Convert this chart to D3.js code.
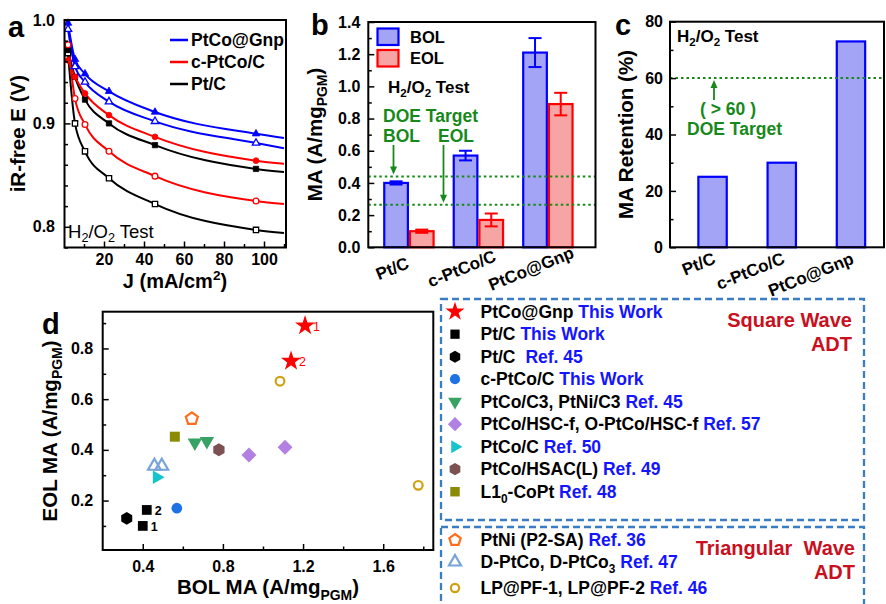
<!DOCTYPE html>
<html>
<head>
<meta charset="utf-8">
<script src="https://cdn.jsdelivr.net/npm/d3@7"></script>
<style>
  html, body { margin: 0; padding: 0; background: #fff; }
  svg { display: block; }
  text { font-family: 'Liberation Sans', Arial, Helvetica, sans-serif; }
</style>
</head>
<body>
<svg id="fig" width="886" height="604"></svg>
<script>
// ---------- panel a: iR-free polarization curves (H2/O2) ----------
const currentDensity = [2, 5.5, 10.5, 22.5, 45.5, 96, 110];   // mA/cm2, last point = curve end
const gnpBOL   = [0.997, 0.962, 0.948, 0.931, 0.911, 0.890, 0.886];
const gnpEOL   = [0.991, 0.955, 0.940, 0.921, 0.902, 0.881, 0.876];
const cPtCoBOL = [0.961, 0.945, 0.929, 0.908, 0.887, 0.864, 0.861];
const cPtCoEOL = [0.976, 0.924, 0.899, 0.873, 0.849, 0.825, 0.822];
const ptcBOL   = [0.971, 0.945, 0.923, 0.900, 0.879, 0.856, 0.853];
const ptcEOL   = [0.968, 0.900, 0.873, 0.847, 0.822, 0.797, 0.794];
const curveLegend = ["PtCo@Gnp", "c-PtCo/C", "Pt/C"];

// ---------- panel b: mass activity BOL / EOL ----------
const catalysts = ["Pt/C", "c-PtCo/C", "PtCo@Gnp"];
const bolMA  = [0.40, 0.57, 1.21];
const bolErr = [0.01, 0.03, 0.09];
const eolMA  = [0.10, 0.17, 0.89];
const eolErr = [0.01, 0.04, 0.07];
const doeTargetBOL = 0.44;
const doeTargetEOL = 0.264;

// ---------- panel c: MA retention ----------
const retention = [25, 30, 73];
const doeRetention = 60;

// ---------- panel d: EOL vs BOL mass activity ----------
const gnpThisWorkBOL = [1.21, 1.14],  gnpThisWorkEOL = [0.89, 0.75];
const ptcThisWorkBOL = [0.40, 0.42],  ptcThisWorkEOL = [0.10, 0.163];
const ptcRef45BOL = [0.32],           ptcRef45EOL = [0.13];
const cPtCoThisWorkBOL = [0.57],      cPtCoThisWorkEOL = [0.17];
const c3Ref45BOL = [0.66, 0.72],      c3Ref45EOL = [0.428, 0.434];
const hscRef57BOL = [0.93, 1.11],     hscRef57EOL = [0.38, 0.41];
const ptcoRef50BOL = [0.47],          ptcoRef50EOL = [0.292];
const hsacRef49BOL = [0.78],          hsacRef49EOL = [0.40];
const l10Ref48BOL = [0.56],           l10Ref48EOL = [0.452];
const ptniRef36BOL = [0.645],         ptniRef36EOL = [0.523];
const dptcoRef47BOL = [0.458, 0.495], dptcoRef47EOL = [0.336, 0.336];
const lpRef46BOL = [1.085, 1.775],    lpRef46EOL = [0.671, 0.26];
const pointTags = ["1", "2"];

// ---------------------------------------------------------------
const svg = d3.select("#fig");
svg.append("rect").attr("width", 886).attr("height", 604).attr("fill", "#fff");

const BLUE = "#0000ff", RED = "#ff0000", GREEN = "#17891a", REFBLUE = "#1414ff", DARKRED = "#c8101e";

// regular polygon symbol (area-based size, like d3 symbols)
function polygon(n, a0) {
  return {
    draw(ctx, size) {
      const r = Math.sqrt(size / (n / 2 * Math.sin(2 * Math.PI / n)));
      for (let i = 0; i < n; i++) {
        const a = a0 + i * 2 * Math.PI / n;
        const px = r * Math.cos(a), py = r * Math.sin(a);
        if (i === 0) ctx.moveTo(px, py); else ctx.lineTo(px, py);
      }
      ctx.closePath();
    }
  };
}
const SYM = {
  star: d3.symbolStar,
  circle: d3.symbolCircle,
  square: polygon(4, Math.PI / 4),
  diamond: polygon(4, -Math.PI / 2),
  triUp: polygon(3, -Math.PI / 2),
  triDown: polygon(3, Math.PI / 2),
  triRight: polygon(3, 0),
  hexagon: polygon(6, -Math.PI / 2),
  pentagon: polygon(5, -Math.PI / 2)
};

// text with optional sub/superscript parts
function rich(g, x, y, parts, o = {}) {
  const size = o.size || 16;
  const t = g.append("text")
    .attr("x", x).attr("y", y)
    .attr("font-size", size)
    .attr("font-weight", o.weight || "bold")
    .attr("fill", o.fill || "#000")
    .attr("text-anchor", o.anchor || "start")
    .style("white-space", "pre");
  if (o.transform) t.attr("transform", o.transform);
  let shift = 0;
  parts.forEach(p => {
    const s = t.append("tspan").text(p.t);
    const target = p.sub ? size * 0.27 : p.sup ? -size * 0.42 : 0;
    if (target !== shift) { s.attr("dy", target - shift); shift = target; }
    if (p.sub || p.sup) s.attr("font-size", size * 0.68);
    if (p.fill) s.attr("fill", p.fill);
    if (p.dx) s.attr("dx", p.dx);
  });
  return t;
}

function frame(g, b) {
  g.append("rect").attr("x", b.l).attr("y", b.t)
    .attr("width", b.r - b.l).attr("height", b.b - b.t)
    .attr("fill", "none").attr("stroke", "#000").attr("stroke-width", 2);
}

function styleAxis(a, size) {
  a.attr("font-family", "'Liberation Sans', Arial, sans-serif")
   .attr("font-size", size).attr("font-weight", "bold");
  a.select(".domain").remove();
  a.selectAll("line").attr("stroke", "#000").attr("stroke-width", 1.5);
  a.selectAll("text").attr("fill", "#000");
}

function leftAxis(g, scale, x, major, minor, pad, fmt) {
  styleAxis(g.append("g").attr("transform", `translate(${x},0)`)
    .call(d3.axisLeft(scale).tickValues(major).tickSize(-6).tickPadding(pad).tickFormat(fmt)), 16);
  if (minor.length)
    styleAxis(g.append("g").attr("transform", `translate(${x},0)`)
      .call(d3.axisLeft(scale).tickValues(minor).tickSize(-3.5).tickFormat("")), 16);
}
function bottomAxis(g, scale, y, major, minor, pad, fmt) {
  styleAxis(g.append("g").attr("transform", `translate(0,${y})`)
    .call(d3.axisBottom(scale).tickValues(major).tickSize(-6).tickPadding(pad).tickFormat(fmt)), 16);
  if (minor.length)
    styleAxis(g.append("g").attr("transform", `translate(0,${y})`)
      .call(d3.axisBottom(scale).tickValues(minor).tickSize(-3.5).tickFormat("")), 16);
}

function arrow(g, x, y0, y1, color) {
  const dir = Math.sign(y1 - y0);
  g.append("line").attr("x1", x).attr("x2", x).attr("y1", y0).attr("y2", y1 - dir * 7)
    .attr("stroke", color).attr("stroke-width", 1.8);
  g.append("path")
    .attr("d", `M${x - 3.5},${y1 - dir * 8}L${x + 3.5},${y1 - dir * 8}L${x},${y1}Z`)
    .attr("fill", color);
}

// ================= panel a =================
{
  const g = svg.append("g");
  const B = { l: 64.5, r: 286, t: 20, b: 247.5 };
  const x = d3.scaleLinear().domain([0, 111]).range([64, 286]);
  const y = d3.scaleLinear().domain([0.78, 1.0]).range([B.b, B.t]);

  g.append("clipPath").attr("id", "clipA").append("rect")
    .attr("x", B.l).attr("y", B.t - 6).attr("width", B.r - B.l).attr("height", B.b - B.t + 6);

  const series = [
    { v: ptcEOL,   c: "#000", s: SYM.square, open: true },
    { v: ptcBOL,   c: "#000", s: SYM.square, open: false },
    { v: cPtCoEOL, c: RED,    s: SYM.circle, open: true },
    { v: cPtCoBOL, c: RED,    s: SYM.circle, open: false },
    { v: gnpEOL,   c: BLUE,   s: SYM.triUp,  open: true },
    { v: gnpBOL,   c: BLUE,   s: SYM.triUp,  open: false }
  ];
  const line = d3.line()
    .x((d, i) => x(currentDensity[i])).y(d => y(d))
    .curve(d3.curveMonotoneX);
  const plot = g.append("g").attr("clip-path", "url(#clipA)");
  series.forEach(sr => {
    plot.append("path").attr("d", line(sr.v))
      .attr("fill", "none").attr("stroke", sr.c).attr("stroke-width", 2);
  });
  series.forEach(sr => {
    const size = sr.s === SYM.circle ? 26 : sr.s === SYM.square ? 28 : 24;
    plot.selectAll(null).data(sr.v.slice(0, currentDensity.length - 1)).enter()
      .append("path")
      .attr("d", d3.symbol().type(sr.s).size(size))
      .attr("transform", (d, i) => `translate(${x(currentDensity[i])},${y(d)})`)
      .attr("fill", sr.open ? "#fff" : sr.c)
      .attr("stroke", sr.c).attr("stroke-width", sr.open ? 1.3 : 0.8);
  });

  frame(g, B);
  leftAxis(g, y, B.l, [0.8, 0.9, 1.0], d3.range(0.78, 1.0, 0.02).filter(v => Math.abs(v * 10 - Math.round(v * 10)) > 0.01), 9.5, d3.format(".1f"));
  bottomAxis(g, x, B.b, [20, 40, 60, 80, 100], [10, 30, 50, 70, 90, 110], 6.5, d3.format("d"));

  // legend
  const legColors = [BLUE, RED, "#000"];
  curveLegend.forEach((name, i) => {
    const ly = 40 + i * 22;
    g.append("line").attr("x1", 170).attr("x2", 188).attr("y1", ly).attr("y2", ly)
      .attr("stroke", legColors[i]).attr("stroke-width", 2.5);
    g.append("text").attr("x", 191).attr("y", ly).attr("dy", "0.35em")
      .attr("font-size", 17.5).attr("font-weight", "bold").text(name);
  });
  rich(g, 68, 237.5, [{ t: "H" }, { t: "2", sub: true }, { t: "/O" }, { t: "2", sub: true }, { t: " Test" }], { size: 18.5, weight: "normal" });

  rich(g, 0, 0, [{ t: "iR-free E (V)" }], { size: 20.5, anchor: "middle", transform: "translate(24.5,133.7) rotate(-90)" });
  rich(g, 175, 288, [{ t: "J (mA/cm" }, { t: "2", sup: true }, { t: ")" }], { size: 20, anchor: "middle" });
  g.append("text").attr("x", 8).attr("y", 36.5).attr("font-size", 29).attr("font-weight", "bold").text("a");
}

// ================= panel b =================
{
  const g = svg.append("g");
  const B = { l: 368.3, r: 595.5, t: 22, b: 247.3 };
  const y = d3.scaleLinear().domain([0, 1.4]).range([B.b, B.t]);
  const x = d3.scaleBand().domain(catalysts).range([B.l, B.r])
    .paddingInner(0.29).paddingOuter(0.28).align(0.41);
  const sub = d3.scaleBand().domain(["BOL", "EOL"]).range([0, x.bandwidth()]).paddingInner(0.08);

  const groups = [
    { key: "BOL", vals: bolMA, err: bolErr, stroke: BLUE, fill: "#a4a4f6" },
    { key: "EOL", vals: eolMA, err: eolErr, stroke: RED,  fill: "#f6a4a4" }
  ];
  groups.forEach(gr => {
    catalysts.forEach((c, i) => {
      const x0 = x(c) + sub(gr.key), w = sub.bandwidth();
      g.append("rect").attr("x", x0).attr("y", y(gr.vals[i]))
        .attr("width", w).attr("height", y(0) - y(gr.vals[i]))
        .attr("fill", gr.fill).attr("stroke", gr.stroke).attr("stroke-width", 2.2);
      const cx = x0 + w / 2;
      const top = y(gr.vals[i] + gr.err[i]), bot = y(gr.vals[i] - gr.err[i]);
      g.append("line").attr("x1", cx).attr("x2", cx).attr("y1", top).attr("y2", bot)
        .attr("stroke", gr.stroke).attr("stroke-width", 2);
      [top, bot].forEach(yy => g.append("line").attr("x1", cx - 6.5).attr("x2", cx + 6.5)
        .attr("y1", yy).attr("y2", yy).attr("stroke", gr.stroke).attr("stroke-width", 2));
    });
  });

  [doeTargetBOL, doeTargetEOL].forEach(v => {
    g.append("line").attr("x1", B.l).attr("x2", B.r).attr("y1", y(v)).attr("y2", y(v))
      .attr("stroke", GREEN).attr("stroke-width", 2).attr("stroke-dasharray", "2.5,3");
  });

  frame(g, B);
  leftAxis(g, y, B.l, d3.range(0, 1.41, 0.2), d3.range(0.1, 1.4, 0.2), 8, d3.format(".1f"));

  // category labels
  catalysts.forEach(c => {
    g.append("text").attr("transform", `translate(${x(c) + x.bandwidth() / 2 - 14.5},274) rotate(-22)`)
      .attr("text-anchor", "middle").attr("font-size", 17).attr("font-weight", "bold").text(c);
  });

  // legend
  groups.forEach((gr, i) => {
    const ly = 28.5 + i * 21.5;
    g.append("rect").attr("x", 377.5).attr("y", ly).attr("width", 21).attr("height", 16.5)
      .attr("fill", gr.fill).attr("stroke", gr.stroke).attr("stroke-width", 2.2);
    g.append("text").attr("x", 410).attr("y", ly + 8.5).attr("dy", "0.35em")
      .attr("font-size", 16.5).attr("font-weight", "bold").text(gr.key);
  });
  rich(g, 388, 92.5, [{ t: "H" }, { t: "2", sub: true }, { t: "/O" }, { t: "2", sub: true }, { t: " Test" }], { size: 17 });

  g.append("text").attr("x", 383).attr("y", 121.5).attr("font-size", 17.5).attr("font-weight", "bold").attr("fill", GREEN).text("DOE Target");
  g.append("text").attr("x", 383).attr("y", 141.5).attr("font-size", 17.5).attr("font-weight", "bold").attr("fill", GREEN).text("BOL");
  g.append("text").attr("x", 438).attr("y", 141.5).attr("font-size", 17.5).attr("font-weight", "bold").attr("fill", GREEN).text("EOL");
  arrow(g, 393.5, 145, y(doeTargetBOL) - 2, GREEN);
  arrow(g, 443.5, 145, y(doeTargetEOL) - 2, GREEN);

  rich(g, 0, 0, [{ t: "MA (A/mg" }, { t: "PGM", sub: true }, { t: ")" }], { size: 20.5, anchor: "middle", transform: "translate(321.5,134.5) rotate(-90)" });
  g.append("text").attr("x", 311).attr("y", 35).attr("font-size", 29).attr("font-weight", "bold").text("b");
}

// ================= panel c =================
{
  const g = svg.append("g");
  const B = { l: 670, r: 884, t: 21.7, b: 247.3 };
  const y = d3.scaleLinear().domain([0, 80]).range([B.b, B.t]);
  const x = d3.scaleBand().domain(catalysts).range([B.l, 883.3])
    .paddingInner(0.59).paddingOuter(0.336).align(0.61);

  catalysts.forEach((c, i) => {
    g.append("rect").attr("x", x(c)).attr("y", y(retention[i]))
      .attr("width", x.bandwidth()).attr("height", y(0) - y(retention[i]))
      .attr("fill", "#a4a4f6").attr("stroke", BLUE).attr("stroke-width", 2.2);
  });
  g.append("line").attr("x1", B.l).attr("x2", B.r).attr("y1", y(doeRetention)).attr("y2", y(doeRetention))
    .attr("stroke", GREEN).attr("stroke-width", 2).attr("stroke-dasharray", "2.5,3");

  frame(g, B);
  leftAxis(g, y, B.l, [0, 20, 40, 60, 80], [10, 30, 50, 70], 7, d3.format("d"));

  catalysts.forEach(c => {
    g.append("text").attr("transform", `translate(${x(c) + x.bandwidth() / 2 + 4},263) rotate(-22)`)
      .attr("text-anchor", "end").attr("font-size", 17).attr("font-weight", "bold").text(c);
  });

  rich(g, 677, 41.5, [{ t: "H" }, { t: "2", sub: true }, { t: "/O" }, { t: "2", sub: true }, { t: " Test" }], { size: 17 });
  arrow(g, 714, 100, y(doeRetention) + 2, GREEN);
  g.append("text").attr("x", 728).attr("y", 114.5).attr("text-anchor", "middle").style("white-space", "pre")
    .attr("font-size", 17.5).attr("font-weight", "bold").attr("fill", GREEN).text("( > 60 )");
  g.append("text").attr("x", 734.5).attr("y", 134.5).attr("text-anchor", "middle")
    .attr("font-size", 17.5).attr("font-weight", "bold").attr("fill", GREEN).text("DOE Target");

  rich(g, 0, 0, [{ t: "MA Retention (%)" }], { size: 20.5, anchor: "middle", transform: "translate(633,134.5) rotate(-90)" });
  g.append("text").attr("x", 615).attr("y", 35).attr("font-size", 29).attr("font-weight", "bold").text("c");
}

// ================= panel d =================
{
  const g = svg.append("g");
  const B = { l: 102.7, r: 433.3, t: 311.7, b: 550 };
  const x = d3.scaleLinear().domain([0.2, 1.85]).range([B.l, B.r]);
  const y = d3.scaleLinear().domain([0.005, 0.945]).range([B.b, B.t]);

  const scatter = [
    { bol: gnpThisWorkBOL,   eol: gnpThisWorkEOL,   sym: "star",     color: "#ff0000", size: 125, tags: true, tagColor: "#ff0000",
      label: [{ t: "PtCo@Gnp " }, { t: "This Work", fill: REFBLUE }] },
    { bol: ptcThisWorkBOL,   eol: ptcThisWorkEOL,   sym: "square",   color: "#000",    size: 95,  tags: true, tagColor: "#000",
      label: [{ t: "Pt/C " }, { t: "This Work", fill: REFBLUE }] },
    { bol: ptcRef45BOL,      eol: ptcRef45EOL,      sym: "hexagon",  color: "#000",    size: 105,
      label: [{ t: "Pt/C " }, { t: "Ref. 45", fill: REFBLUE, dx: 5 }] },
    { bol: cPtCoThisWorkBOL, eol: cPtCoThisWorkEOL, sym: "circle",   color: "#1e72e6", size: 90,
      label: [{ t: "c-PtCo/C " }, { t: "This Work", fill: REFBLUE }] },
    { bol: c3Ref45BOL,       eol: c3Ref45EOL,       sym: "triDown",  color: "#36a263", size: 90,
      label: [{ t: "PtCo/C3, PtNi/C3 " }, { t: "Ref. 45", fill: REFBLUE }] },
    { bol: hscRef57BOL,      eol: hscRef57EOL,      sym: "diamond",  color: "#b27fe2", size: 112,
      label: [{ t: "PtCo/HSC-f, O-PtCo/HSC-f " }, { t: "Ref. 57", fill: REFBLUE }] },
    { bol: ptcoRef50BOL,     eol: ptcoRef50EOL,     sym: "triRight", color: "#17c4cc", size: 80,
      label: [{ t: "PtCo/C " }, { t: "Ref. 50", fill: REFBLUE }] },
    { bol: hsacRef49BOL,     eol: hsacRef49EOL,     sym: "hexagon",  color: "#7c5151", size: 110,
      label: [{ t: "PtCo/HSAC(L) " }, { t: "Ref. 49", fill: REFBLUE }] },
    { bol: l10Ref48BOL,      eol: l10Ref48EOL,      sym: "square",   color: "#8b8b06", size: 100,
      label: [{ t: "L1" }, { t: "0", sub: true }, { t: "-CoPt " }, { t: "Ref. 48", fill: REFBLUE }] },
    { bol: ptniRef36BOL,     eol: ptniRef36EOL,     sym: "pentagon", color: "#ff6c1c", size: 95, open: true,
      label: [{ t: "PtNi (P2-SA) " }, { t: "Ref. 36", fill: REFBLUE }] },
    { bol: dptcoRef47BOL,    eol: dptcoRef47EOL,    sym: "triUp",    color: "#76a3d8", size: 70, open: true,
      label: [{ t: "D-PtCo, D-PtCo" }, { t: "3", sub: true }, { t: " " }, { t: "Ref. 47", fill: REFBLUE }] },
    { bol: lpRef46BOL,       eol: lpRef46EOL,       sym: "circle",   color: "#d1a012", size: 60, open: true,
      label: [{ t: "LP@PF-1, LP@PF-2 " }, { t: "Ref. 46", fill: REFBLUE }] }
  ];

  const styleMark = (sel, s) => sel
    .attr("fill", s.open ? "none" : s.color)
    .attr("stroke", s.color).attr("stroke-width", s.open ? 2.2 : 0);

  scatter.forEach(s => {
    s.bol.forEach((b, i) => {
      styleMark(g.append("path")
        .attr("d", d3.symbol().type(SYM[s.sym]).size(s.size))
        .attr("transform", `translate(${x(b)},${y(s.eol[i])})`), s);
      if (s.tags) {
        g.append("text").attr("x", x(b) + 8).attr("y", y(s.eol[i]) + 5)
          .attr("font-size", 12.5).attr("font-weight", s.tagColor === "#000" ? "bold" : "normal")
          .attr("fill", s.tagColor).text(pointTags[i]);
      }
    });
  });

  frame(g, B);
  leftAxis(g, y, B.l, [0.2, 0.4, 0.6, 0.8], [0.1, 0.3, 0.5, 0.7, 0.9], 9.5, d3.format(".1f"));
  bottomAxis(g, x, B.b, [0.4, 0.8, 1.2, 1.6], [0.6, 1.0, 1.4, 1.8], 10.5, d3.format(".1f"));

  rich(g, 0, 0, [{ t: "EOL MA (A/mg" }, { t: "PGM", sub: true }, { t: ")" }], { size: 20.5, anchor: "middle", transform: "translate(56.5,431) rotate(-90)" });
  rich(g, 268, 594, [{ t: "BOL MA (A/mg" }, { t: "PGM", sub: true }, { t: ")" }], { size: 20.5, anchor: "middle" });
  g.append("text").attr("x", 42).attr("y", 333.5).attr("font-size", 29).attr("font-weight", "bold").text("d");

  // legend boxes
  const boxColor = "#3a7dc4";
  [[441, 299, 864, 520], [441, 527, 864, 614]].forEach(([x0, y0, x1, y1]) => {
    g.append("rect").attr("x", x0).attr("y", y0).attr("width", x1 - x0).attr("height", y1 - y0)
      .attr("fill", "none").attr("stroke", boxColor).attr("stroke-width", 2.3).attr("stroke-dasharray", "7,4");
  });
  const rowY = [311.7, 334.2, 356.7, 379.2, 401.7, 424.2, 446.7, 469.2, 491.7, 540, 562, 588];
  scatter.forEach((s, i) => {
    styleMark(g.append("path")
      .attr("d", d3.symbol().type(SYM[s.sym]).size(s.size * 0.9))
      .attr("transform", `translate(455,${rowY[i]})`), s);
    rich(g, 480.5, rowY[i] + 6.2, s.label, { size: 17.5 });
  });
  g.append("text").attr("x", 852).attr("y", 327).attr("text-anchor", "end")
    .attr("font-size", 20).attr("font-weight", "bold").attr("fill", DARKRED).text("Square Wave");
  g.append("text").attr("x", 852).attr("y", 350.5).attr("text-anchor", "end")
    .attr("font-size", 20).attr("font-weight", "bold").attr("fill", DARKRED).text("ADT");
  g.append("text").attr("x", 855).attr("y", 555).attr("text-anchor", "end").style("white-space", "pre")
    .attr("font-size", 20).attr("font-weight", "bold").attr("fill", DARKRED).text("Triangular  Wave");
  g.append("text").attr("x", 855).attr("y", 578.5).attr("text-anchor", "end")
    .attr("font-size", 20).attr("font-weight", "bold").attr("fill", DARKRED).text("ADT");
}
</script>
</body>
</html>
